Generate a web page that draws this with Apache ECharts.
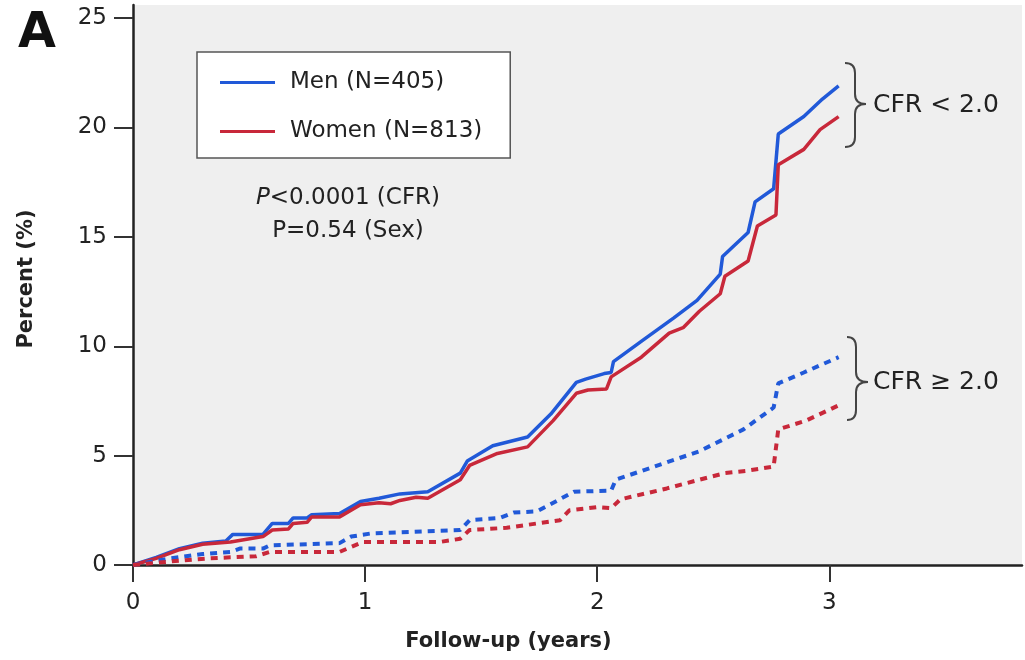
<!DOCTYPE html>
<html>
<head>
<meta charset="utf-8">
<script src="https://cdn.jsdelivr.net/npm/echarts@6/dist/echarts.min.js"></script>
<style>
html,body{margin:0;padding:0;background:#fff;}
#chart{width:1025px;height:660px;}
</style>
</head>
<body>
<div id="chart"></div>
<script>
// ---- Data ----
const seriesNames = ['Men (N=405)', 'Women (N=813)'];
const xTicks = [0, 1, 2, 3];
const yTicks = [0, 5, 10, 15, 20, 25];

// Men, CFR < 2.0 (solid blue)
const menLowCFR = [[0,0],[0.1,0.35],[0.2,0.75],[0.3,1.0],[0.4,1.1],[0.43,1.4],[0.56,1.4],[0.6,1.9],[0.67,1.9],[0.69,2.15],[0.75,2.15],[0.77,2.3],[0.89,2.35],[0.98,2.9],[1.06,3.05],[1.15,3.25],[1.27,3.35],[1.41,4.2],[1.44,4.75],[1.55,5.45],[1.7,5.85],[1.8,6.9],[1.91,8.35],[1.95,8.5],[2.03,8.75],[2.06,8.8],[2.07,9.3],[2.2,10.3],[2.33,11.3],[2.43,12.1],[2.53,13.3],[2.54,14.1],[2.65,15.2],[2.68,16.6],[2.76,17.2],[2.78,19.7],[2.89,20.5],[2.97,21.3],[3.04,21.9]];
// Women, CFR < 2.0 (solid red)
const womenLowCFR = [[0,0],[0.1,0.3],[0.2,0.7],[0.3,0.95],[0.42,1.05],[0.56,1.3],[0.6,1.6],[0.67,1.65],[0.69,1.9],[0.75,1.95],[0.77,2.2],[0.89,2.2],[0.98,2.75],[1.06,2.85],[1.11,2.8],[1.15,2.95],[1.22,3.1],[1.27,3.05],[1.41,3.9],[1.45,4.55],[1.57,5.1],[1.7,5.4],[1.81,6.6],[1.91,7.85],[1.96,8.0],[2.04,8.05],[2.06,8.6],[2.19,9.5],[2.31,10.6],[2.37,10.85],[2.44,11.6],[2.53,12.4],[2.55,13.2],[2.65,13.9],[2.69,15.5],[2.77,16.0],[2.78,18.3],[2.89,19.0],[2.96,19.9],[3.04,20.5]];
// Men, CFR >= 2.0 (dotted blue)
const menHighCFR = [[0,0],[0.16,0.3],[0.3,0.5],[0.42,0.6],[0.46,0.75],[0.56,0.75],[0.59,0.9],[0.89,1.0],[0.94,1.3],[1.03,1.45],[1.41,1.6],[1.45,2.05],[1.58,2.15],[1.64,2.4],[1.74,2.45],[1.9,3.35],[2.06,3.4],[2.08,3.9],[2.44,5.2],[2.63,6.2],[2.76,7.2],[2.78,8.3],[2.89,8.8],[3.04,9.5]];
// Women, CFR >= 2.0 (dotted red)
const womenHighCFR = [[0,0],[0.2,0.2],[0.32,0.3],[0.42,0.35],[0.53,0.4],[0.59,0.6],[0.89,0.6],[0.99,1.05],[1.32,1.05],[1.41,1.2],[1.45,1.6],[1.61,1.7],[1.84,2.05],[1.88,2.5],[2.0,2.65],[2.06,2.6],[2.1,3.0],[2.3,3.5],[2.44,3.9],[2.55,4.2],[2.64,4.3],[2.76,4.5],[2.78,6.2],[2.9,6.6],[3.04,7.3]];

const BLUE = '#2159d8';
const RED = '#c8283a';
const FONT = 'DejaVu Sans';

const chart = echarts.init(document.getElementById('chart'), null, {renderer: 'canvas'});

function lineSeries(name, data, color, dashed) {
  return {
    name: name,
    type: 'line',
    data: data,
    symbol: 'none',
    showSymbol: false,
    silent: true,
    itemStyle: {color: color},
    lineStyle: {color: color, width: dashed ? 4 : 3.5, type: dashed ? [7, 6] : 'solid', cap: 'butt'}
  };
}

// curly brace annotation built from curves/lines (pixel layout of the annotation)
function brace(xEnd, xMid, xTip, yTop, yTip, yBot) {
  const st = {stroke: '#444', lineWidth: 2, fill: 'none'};
  const r = 10;
  return [
    {type: 'bezierCurve', shape: {x1: xEnd, y1: yTop, cpx1: xMid, cpy1: yTop, x2: xMid, y2: yTop + r}, style: st},
    {type: 'line', shape: {x1: xMid, y1: yTop + r, x2: xMid, y2: yTip - r}, style: st},
    {type: 'bezierCurve', shape: {x1: xMid, y1: yTip - r, cpx1: xMid, cpy1: yTip, x2: xTip, y2: yTip}, style: st},
    {type: 'bezierCurve', shape: {x1: xTip, y1: yTip, cpx1: xMid, cpy1: yTip, x2: xMid, y2: yTip + r}, style: st},
    {type: 'line', shape: {x1: xMid, y1: yTip + r, x2: xMid, y2: yBot - r}, style: st},
    {type: 'bezierCurve', shape: {x1: xMid, y1: yBot - r, cpx1: xMid, cpy1: yBot, x2: xEnd, y2: yBot}, style: st}
  ];
}

const option = {
  animation: false,
  backgroundColor: '#ffffff',
  textStyle: {fontFamily: FONT},
  grid: {left: 133, right: 3, top: 5, bottom: 95, show: true, backgroundColor: '#efefef', borderWidth: 0},
  legend: {
    data: seriesNames,
    left: 197, top: 52,
    orient: 'vertical',
    icon: 'rect',
    itemWidth: 55, itemHeight: 3,
    itemGap: 26,
    padding: [19, 28, 15, 23],
    backgroundColor: '#ffffff',
    borderColor: '#555555',
    borderWidth: 1.5,
    selectedMode: false,
    textStyle: {fontFamily: FONT, fontSize: 23, color: '#222', padding: [0, 0, 0, 10]}
  },
  xAxis: {
    type: 'value', min: 0, max: 3.83, interval: 1,
    name: 'Follow-up (years)', nameLocation: 'middle', nameGap: 66,
    nameTextStyle: {fontFamily: FONT, fontWeight: 'bold', fontSize: 21, color: '#222', padding: [0, 138, 0, 0]},
    axisLine: {show: true, onZero: false, lineStyle: {color: '#222', width: 2.5}},
    axisTick: {show: true, inside: false, length: 17, lineStyle: {color: '#333', width: 2}, customValues: xTicks},
    axisLabel: {fontFamily: FONT, fontSize: 23, color: '#222', margin: 27, customValues: xTicks},
    splitLine: {show: false}
  },
  yAxis: {
    type: 'value', min: 0, max: 25.6, interval: 5,
    name: 'Percent (%)', nameLocation: 'middle', nameGap: 96,
    nameTextStyle: {fontFamily: FONT, fontWeight: 'bold', fontSize: 21, color: '#222', padding: [0, 0, 0, 12]},
    axisLine: {show: true, onZero: false, lineStyle: {color: '#222', width: 2.5}},
    axisTick: {show: true, inside: false, length: 19, lineStyle: {color: '#333', width: 2}, customValues: yTicks},
    axisLabel: {fontFamily: FONT, fontSize: 23, color: '#222', margin: 26, customValues: yTicks},
    splitLine: {show: false}
  },
  series: [
    lineSeries(seriesNames[0], menLowCFR, BLUE, false),
    lineSeries(seriesNames[1], womenLowCFR, RED, false),
    lineSeries(seriesNames[0], menHighCFR, BLUE, true),
    lineSeries(seriesNames[1], womenHighCFR, RED, true)
  ],
  graphic: [
    {type: 'text', x: 18, y: 34, style: {text: 'A', font: 'bold 49px "DejaVu Sans"', fill: '#111', align: 'left', verticalAlign: 'middle'}},
    {type: 'text', x: 348, y: 198, style: {text: '{i|P}<0.0001 (CFR)', fontFamily: FONT, fontSize: 23, fill: '#222', align: 'center', verticalAlign: 'middle',
      rich: {i: {fontFamily: FONT, fontSize: 23, fontStyle: 'italic', fill: '#222'}}}},
    {type: 'text', x: 348, y: 231, style: {text: 'P=0.54 (Sex)', fontFamily: FONT, fontSize: 23, fill: '#222', align: 'center', verticalAlign: 'middle'}}
  ].concat(brace(845, 855, 866, 63, 104, 147))
   .concat(brace(847, 856, 868, 337, 382, 420))
   .concat([
    {type: 'text', x: 873, y: 105, style: {text: 'CFR < 2.0', fontFamily: FONT, fontSize: 25, fill: '#222', align: 'left', verticalAlign: 'middle'}},
    {type: 'text', x: 873, y: 382, style: {text: 'CFR \u2265 2.0', fontFamily: FONT, fontSize: 25, fill: '#222', align: 'left', verticalAlign: 'middle'}}
  ])
};
chart.setOption(option);
</script>
</body>
</html>
